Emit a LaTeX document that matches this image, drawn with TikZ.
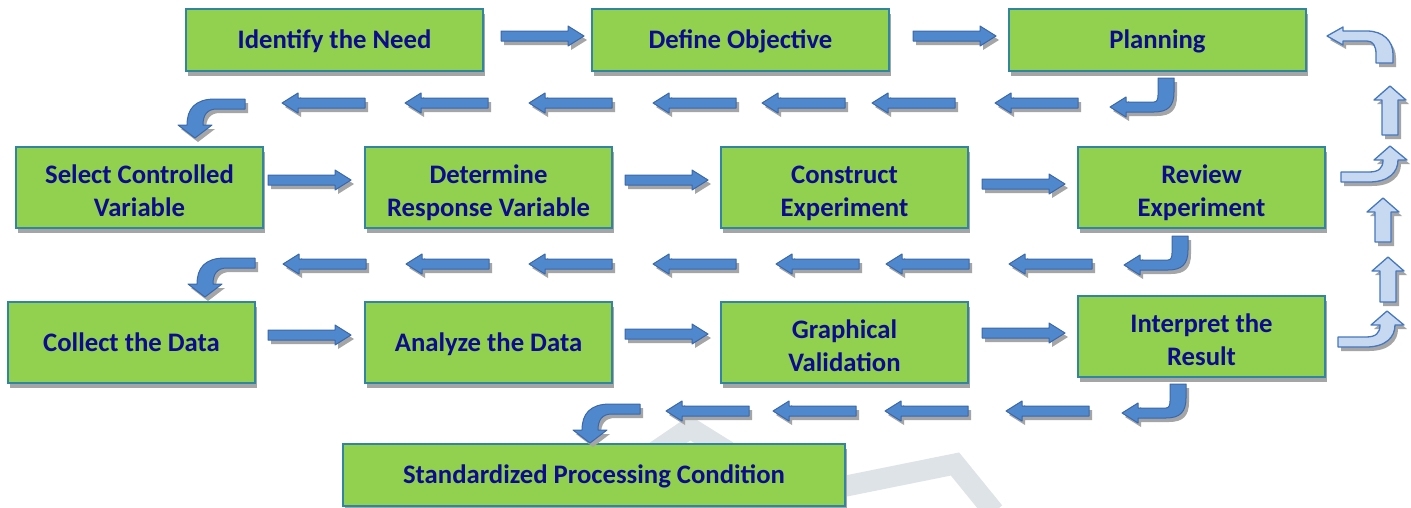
\documentclass[tikz,border=0pt]{standalone}
\usepackage{fontspec}
\setmainfont{Carlito}
\usetikzlibrary{shadows}

\definecolor{boxfill}{RGB}{146,208,80}
\definecolor{boxline}{RGB}{49,133,160}
\definecolor{txtblue}{RGB}{12,12,140}
\definecolor{arrfill}{RGB}{80,136,206}
\definecolor{arrline}{RGB}{58,104,170}
\definecolor{lightfill}{RGB}{198,217,241}
\definecolor{lightline}{RGB}{70,120,190}
\definecolor{shadowgray}{RGB}{165,165,165}
\definecolor{markgray}{RGB}{221,227,230}

\tikzset{
  x=1pt, y=-1pt,
  box/.style={draw=boxline, line width=1.6pt, fill=boxfill, text=txtblue,
    font=\fontsize{26.7}{33}\selectfont\bfseries, align=center, inner sep=0pt,
    drop shadow={shadow xshift=2pt, shadow yshift=-5pt, fill=shadowgray, opacity=1}},
  oneline/.style={text height=19.6pt, text depth=2pt},
  twoline/.style={text height=59.2pt, text depth=2pt},
  rowbox/.style={box, oneline, minimum width=297, minimum height=62},
  stepbox/.style={box, twoline, minimum width=247, minimum height=81},
  flatbox/.style={box, oneline, minimum width=247, minimum height=81},
  darkarrow/.style={fill=arrfill, draw=arrline, line width=1pt, line join=round,
    drop shadow={shadow xshift=3pt, shadow yshift=-4pt, fill=shadowgray, opacity=1}},
  lightarrow/.style={fill=lightfill, draw=lightline, line width=1.3pt, line join=round,
    drop shadow={shadow xshift=3pt, shadow yshift=-4pt, fill=shadowgray, opacity=1}},
  % straight block arrow pointing right, origin at the tail centre
  pics/rarr/.style={code={
    \filldraw[darkarrow] (0,-5) -- (67,-5) -- (67,-10) -- (83,0) -- (67,10) -- (67,5) -- (0,5) -- cycle;}},
  % straight block arrow pointing left, origin at the tip
  pics/larr/.style={code={
    \filldraw[darkarrow] (0,0) -- (16,-10) -- (16,-5) -- (83,-5) -- (83,5) -- (16,5) -- (16,10) -- cycle;}},
  % bent arrow: down, then left; origin at top right of the stem
  pics/downleft/.style={code={
    \filldraw[darkarrow] (0,0) -- (0,14) .. controls (0,28) and (-6,34) .. (-20,34) -- (-48,34)
      -- (-48,39) -- (-64,29) -- (-48,19) -- (-48,24) -- (-20,24)
      .. controls (-17,24) and (-16,21) .. (-16,17) -- (-16,0) -- cycle;}},
  % bent arrow: left, then down; origin at the right end of the shaft (top)
  pics/leftdown/.style={code={
    \filldraw[darkarrow] (0,0) -- (-30,0) .. controls (-50,0) and (-58,10) .. (-58,26)
      -- (-67,26) -- (-50,39) -- (-33,26) -- (-42,26)
      .. controls (-42,16) and (-38,10) .. (-28,10) -- (0,10) -- cycle;}},
  % light block arrow pointing up, origin at the bottom centre
  pics/uparr/.style={code={
    \filldraw[lightarrow] (-8,0) -- (-8,{-#1+14}) -- (-16,{-#1+14}) -- (0,{-#1})
      -- (16,{-#1+14}) -- (8,{-#1+14}) -- (8,0) -- cycle;}},
  % light bent arrow: right, then up; origin at the tail (bottom edge)
  pics/rightup/.style={code={
    \filldraw[lightarrow] (0,0) -- (28,0) .. controls (48,0) and (57,-10) .. (57,-22)
      -- (66,-22) -- (49,-36) -- (33,-22) -- (42,-22)
      .. controls (42,-14) and (38,-10) .. (28,-10) -- (0,-10) -- cycle;}},
  % light return arrow: up, then left; origin at the tip
  pics/upleft/.style={code={
    \filldraw[lightarrow] (0,0) -- (16,-9) -- (16,-5) -- (40,-5)
      .. controls (56,-5) and (66,5) .. (66,18) -- (66,27) -- (49,27) -- (49,18)
      .. controls (49,10) and (46,5) .. (40,5) -- (16,5) -- (16,9) -- cycle;}},
}

\begin{document}
\begin{tikzpicture}
\useasboundingbox (0,0) rectangle (1411,507);
\clip (0,0) rectangle (1411,507);
\fill[white] (0,0) rectangle (1411,507);

% faint background mark
\draw[markgray, line width=21pt, line join=miter]
  (640,462) -- (690,428) -- (780,484) .. controls (800,494) and (820,490) .. (846,486)
  -- (955,464) -- (994,512);

% row 1
\node[rowbox] (need) at (334.5,40) {Identify the Need};
\node[rowbox] (obj)  at (740.5,40) {Define Objective};
\node[rowbox] (plan) at (1157.5,40) {Planning};

% row 2
\node[stepbox] (sel) at (139.5,187.5) {Select Controlled\\Variable};
\node[stepbox] (det) at (488.5,187.5) {Determine\\Response Variable};
\node[stepbox] (con) at (844.5,187.5) {Construct\\Experiment};
\node[stepbox] (rev) at (1201.5,187.5) {Review\\Experiment};

% row 3
\node[flatbox] (col) at (131.5,342.5) {Collect the Data};
\node[flatbox] (ana) at (488.5,342.5) {Analyze the Data};
\node[stepbox] (gra) at (844.5,342.5) {Graphical\\Validation};
\node[stepbox] (int) at (1201.5,336.5) {Interpret the\\Result};

% final step
\node[box, oneline, minimum width=502, minimum height=62] (std) at (594,475) {Standardized Processing Condition};

% forward arrows inside each row
\pic at (501,36) {rarr};
\pic at (913,36) {rarr};
\pic at (268,180) {rarr};
\pic at (625,180) {rarr};
\pic at (982,184) {rarr};
\pic at (268,335) {rarr};
\pic at (625,334) {rarr};
\pic at (982,333) {rarr};

% return path from planning to the second row
\pic at (1174,78) {downleft};
\foreach \x in {995,872,762,653,529,405,282} \pic at (\x,103) {larr};
\pic at (245,99) {leftdown};

% return path from review to the third row
\pic at (1188,236) {downleft};
\foreach \x in {1009,886,776,653,529,406,283} \pic at (\x,264) {larr};
\pic at (255,258) {leftdown};

% return path from the result to the final step
\pic at (1186,384) {downleft};
\foreach \x in {1006,885,773,666} \pic at (\x,411) {larr};
\pic at (640,404) {leftdown};

% feedback column on the right
\pic at (1338,347) {rightup};
\pic at (1388,302) {uparr=45};
\pic at (1383,242) {uparr=44};
\pic at (1341,182) {rightup};
\pic at (1390,135) {uparr=49};
\pic at (1327,36) {upleft};
\end{tikzpicture}
\end{document}
